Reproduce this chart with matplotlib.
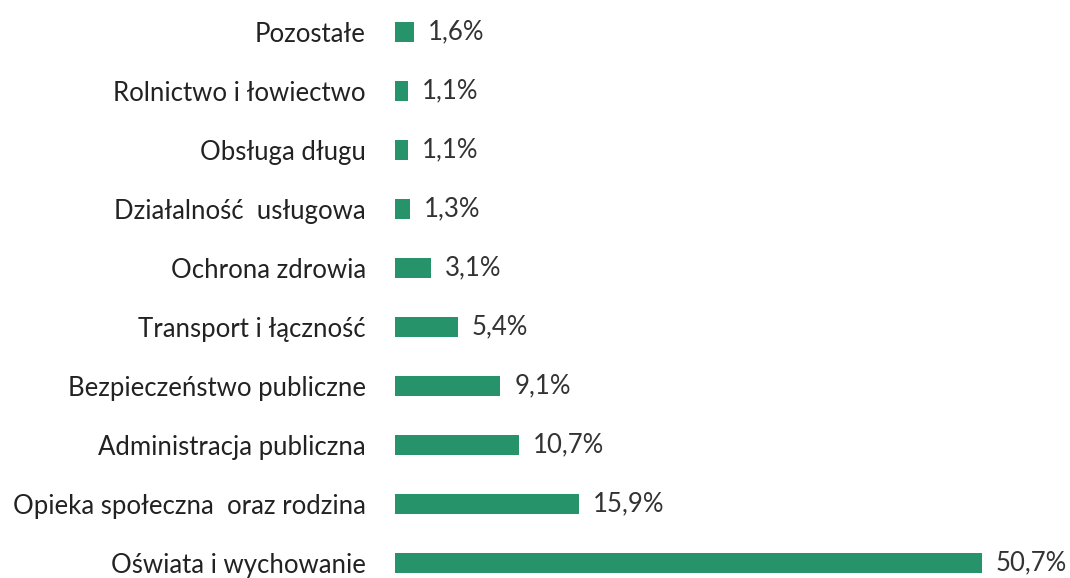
import numpy as np
import matplotlib
matplotlib.use("Agg")
import matplotlib.pyplot as plt

categories = [
    "Oświata i wychowanie",
    "Opieka społeczna  oraz rodzina",
    "Administracja publiczna",
    "Bezpieczeństwo publiczne",
    "Transport i łączność",
    "Ochrona zdrowia",
    "Działalność  usługowa",
    "Obsługa długu",
    "Rolnictwo i łowiectwo",
    "Pozostałe",
]
values = [50.7, 15.9, 10.7, 9.1, 5.4, 3.1, 1.3, 1.1, 1.1, 1.6]
value_labels = ["50,7%", "15,9%", "10,7%", "9,1%", "5,4%", "3,1%", "1,3%", "1,1%", "1,1%", "1,6%"]

plt.rcParams['font.family'] = ['Lato', 'DejaVu Sans']

fig = plt.figure(figsize=(10.70, 5.78), dpi=100)
ax = fig.add_axes([395 / 1070, 0, 675 / 1070, 1])

y = np.arange(len(categories))
ax.barh(y, values, height=0.35, color='#26936a')

for yi, v, lab in zip(y, values, value_labels):
    ax.annotate(lab, (v, yi), xytext=(10, 0), textcoords='offset points',
                va='center', ha='left', fontsize=18.5, color='#333333')

ax.set_yticks(y)
ax.set_yticklabels(categories, fontsize=18.5, color='#222222')
ax.tick_params(axis='y', length=0, pad=21)
ax.set_xticks([])
ax.set_xlim(0, 675 / 11.58)
ax.set_ylim(-0.254, 9.54)
for s in ax.spines.values():
    s.set_visible(False)

fig.savefig("out.png", dpi=100, facecolor='white')
